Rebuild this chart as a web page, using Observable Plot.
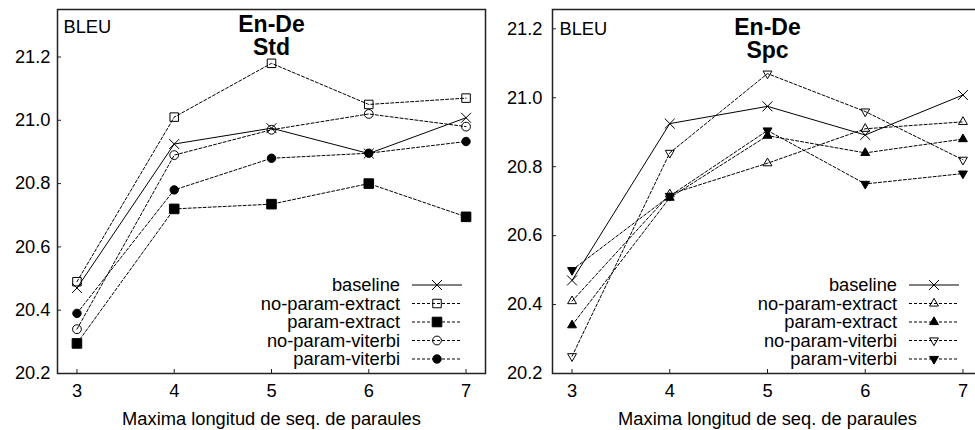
<!DOCTYPE html>
<html><head><meta charset="utf-8">
<script src="https://cdn.jsdelivr.net/npm/d3@7"></script>
<script src="https://cdn.jsdelivr.net/npm/@observablehq/plot@0.6"></script>
<style>
html,body{margin:0;padding:0;background:#fff;overflow:hidden;width:975px;height:430px}
#wrap{position:relative;width:975px;height:430px;overflow:hidden}
#left{position:absolute;left:0;top:0;width:487px}
#right{position:absolute;left:487px;top:0;width:500px}
svg{max-width:none !important}
</style></head><body><div id="wrap"><div id="left"></div><div id="right"></div></div>
<script>
const xValues = [3, 4, 5, 6, 7];
const xTicks = [3, 4, 5, 6, 7];
const yTicks = [20.2, 20.4, 20.6, 20.8, 21.0, 21.2];
const seriesNames = ["baseline", "no-param-extract", "param-extract", "no-param-viterbi", "param-viterbi"];
const xLabel = "Maxima longitud de seq. de paraules";
const yLabel = "BLEU";

// En-De Std
const stdBaseline       = [20.47, 20.925, 20.975, 20.895, 21.008];
const stdNoParamExtract = [20.49, 21.01, 21.18, 21.05, 21.07];
const stdParamExtract   = [20.295, 20.72, 20.735, 20.80, 20.695];
const stdNoParamViterbi = [20.34, 20.89, 20.97, 21.02, 20.98];
const stdParamViterbi   = [20.39, 20.78, 20.88, 20.896, 20.933];

// En-De Spc
const spcBaseline       = [20.47, 20.925, 20.975, 20.892, 21.008];
const spcNoParamExtract = [20.41, 20.72, 20.81, 20.91, 20.93];
const spcParamExtract   = [20.34, 20.71, 20.89, 20.84, 20.88];
const spcNoParamViterbi = [20.25, 20.84, 21.07, 20.96, 20.82];
const spcParamViterbi   = [20.50, 20.715, 20.905, 20.75, 20.78];

const stdSymbols = [
  {symbol: "times", fill: "none", r: 4.6, rotate: 0},
  {symbol: "square", fill: "none", r: 4.8, rotate: 0},
  {symbol: "square", fill: "black", r: 5.4, rotate: 0},
  {symbol: "circle", fill: "none", r: 4.4, rotate: 0},
  {symbol: "circle", fill: "black", r: 4.2, rotate: 0}
];
const spcSymbols = [
  {symbol: "times", fill: "none", r: 4.6, rotate: 0},
  {symbol: "triangle", fill: "none", r: 3.3, rotate: 0},
  {symbol: "triangle", fill: "black", r: 3.3, rotate: 0},
  {symbol: "triangle", fill: "none", r: 3.3, rotate: 180},
  {symbol: "triangle", fill: "black", r: 3.3, rotate: 180}
];

const font = "'Liberation Sans', Arial, Helvetica, sans-serif";

function makePanel({series, symbols, title, width, marginLeft, marginRight, yDomain, tickPadY, titleDy, bleuDx, bleuDy}) {
  const marginTop = 9, marginBottom = 57, height = 430;
  const marks = [];
  series.forEach((vals, i) => {
    const rows = xValues.map((x, j) => ({x, y: vals[j]}));
    marks.push(Plot.line(rows, {x: "x", y: "y", stroke: "black", strokeWidth: 1,
      strokeDasharray: i === 0 ? null : "3,2"}));
  });
  series.forEach((vals, i) => {
    const rows = xValues.map((x, j) => ({x, y: vals[j]}));
    const s = symbols[i];
    marks.push(Plot.dot(rows, {x: "x", y: "y", symbol: s.symbol, r: s.r, rotate: s.rotate,
      fill: s.fill, stroke: "black", strokeWidth: 1}));
  });
  marks.push(Plot.frame({stroke: "#222", strokeWidth: 1.5}));
  marks.push(Plot.axisY(yTicks, {tickSize: -4, tickPadding: tickPadY, tickFormat: d3.format(".1f"), label: null, stroke: "#222"}));
  marks.push(Plot.axisX(xTicks, {tickSize: -4, tickPadding: 14, label: null, stroke: "#222"}));
  marks.push(Plot.text([title], {frameAnchor: "top", lineAnchor: "top", dy: titleDy, fontWeight: "bold", fontSize: 23, lineHeight: 1, fill: "black"}));
  marks.push(Plot.text([yLabel], {frameAnchor: "top-left", textAnchor: "start", lineAnchor: "top", dx: bleuDx, dy: bleuDy, fill: "black"}));
  marks.push(Plot.text([xLabel], {frameAnchor: "bottom", lineAnchor: "bottom", dy: 51, fill: "black"}));
  const svg = Plot.plot({
    width, height, marginLeft, marginRight, marginTop, marginBottom,
    x: {domain: [2.8, 7.2], axis: null},
    y: {domain: yDomain, axis: null},
    style: {fontFamily: font, fontSize: "18.3px", color: "black", background: "transparent", overflow: "visible", maxWidth: "none"},
    marks
  });
  // legend
  const fx2 = width - marginRight, fy2 = height - marginBottom;
  const g = d3.select(svg).append("g").attr("font-family", font).attr("font-size", "18.3px");
  const typeMap = {times: d3.symbolTimes, square: d3.symbolSquare, circle: d3.symbolCircle, triangle: d3.symbolTriangle};
  seriesNames.forEach((name, i) => {
    const cy = fy2 - 88 + i * 18.5;
    g.append("text").attr("x", fx2 - 85).attr("y", cy).attr("dy", "0.35em")
      .attr("text-anchor", "end").attr("fill", "black").text(name);
    g.append("line").attr("x1", fx2 - 73).attr("x2", fx2 - 23).attr("y1", cy).attr("y2", cy)
      .attr("stroke", "black").attr("stroke-width", 1)
      .attr("stroke-dasharray", i === 0 ? null : "3,2");
    const s = symbols[i];
    g.append("path").attr("transform", `translate(${fx2 - 48},${cy}) rotate(${s.rotate})`)
      .attr("d", d3.symbol(typeMap[s.symbol], Math.PI * s.r * s.r)())
      .attr("fill", s.fill).attr("stroke", "black").attr("stroke-width", 1);
  });
  return svg;
}

document.getElementById("left").append(makePanel({
  series: [stdBaseline, stdNoParamExtract, stdParamExtract, stdNoParamViterbi, stdParamViterbi],
  symbols: stdSymbols, title: "En-De\nStd", width: 487, marginLeft: 57, marginRight: 2,
  yDomain: [20.2, 21.35], tickPadY: 11, titleDy: 6, bleuDx: 6, bleuDy: 10
}));
document.getElementById("right").append(makePanel({
  series: [spcBaseline, spcNoParamExtract, spcParamExtract, spcNoParamViterbi, spcParamViterbi],
  symbols: spcSymbols, title: "En-De\nSpc", width: 500, marginLeft: 65, marginRight: 5,
  yDomain: [20.2, 21.256], tickPadY: 14, titleDy: 9, bleuDx: 7, bleuDy: 12
}));
</script></body></html>
